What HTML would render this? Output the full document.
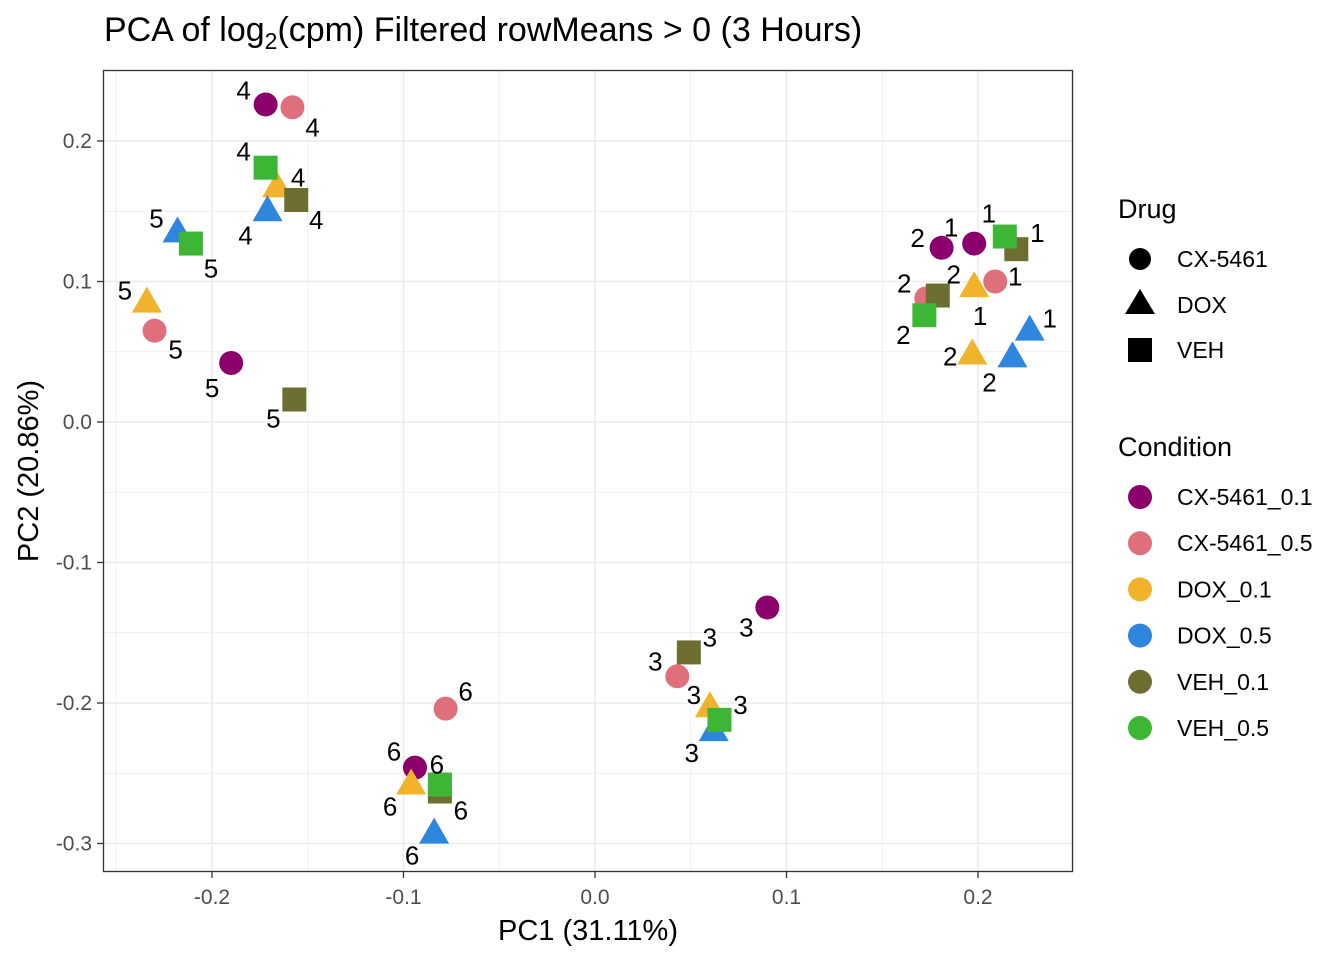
<!DOCTYPE html>
<html><head><meta charset="utf-8"><style>
body{margin:0;background:#fff;font-family:"Liberation Sans",Arial,sans-serif}
svg text{font-family:"Liberation Sans",Arial,sans-serif}
</style></head><body>
<svg id="chart" width="1344" height="960" viewBox="0 0 1344 960" xmlns="http://www.w3.org/2000/svg">
<rect width="1344" height="960" fill="#fff"/>
<text x="104" y="41" font-size="34" fill="#000">PCA of log<tspan font-size="23" dy="8">2</tspan><tspan dy="-8">(cpm) Filtered rowMeans &gt; 0 (3 Hours)</tspan></text>
<g id="grid"></g>
<g id="marks"></g>
<g id="labels"></g>
<rect x="103.5" y="70.5" width="969" height="801" fill="none" stroke="#333" stroke-width="1.3"/>
<g id="axes"></g>
<text x="588" y="940" font-size="29" text-anchor="middle">PC1 (31.11%)</text>
<text transform="translate(38,471) rotate(-90)" font-size="29" text-anchor="middle">PC2 (20.86%)</text>
<g id="legend">
<text x="1118" y="218" font-size="27">Drug</text>
<circle cx="1140" cy="259" r="11" fill="#000"/>
<text x="1177" y="267" font-size="23">CX-5461</text>
<polygon points="1140,289 1155,314 1125,314" fill="#000"/>
<text x="1177" y="313" font-size="23">DOX</text>
<rect x="1128" y="338" width="24" height="24" fill="#000"/>
<text x="1177" y="358" font-size="23">VEH</text>
<text x="1118" y="456" font-size="27">Condition</text>
</g>
</svg>
<script>
const conditions = ["CX-5461_0.1","CX-5461_0.5","DOX_0.1","DOX_0.5","VEH_0.1","VEH_0.5"];
const drugs = ["CX-5461","CX-5461","DOX","DOX","VEH","VEH"];
const colors = ["#8B006B","#E06F7C","#F0B32B","#2E86DE","#6E6E32","#3DB535"];
const reps = [1,2,3,4,5,6];
const pc1 = [
 [0.198,0.181,0.090,-0.172,-0.190,-0.094],
 [0.209,0.173,0.043,-0.158,-0.230,-0.078],
 [0.198,0.197,0.060,-0.166,-0.234,-0.096],
 [0.227,0.218,0.062,-0.171,-0.218,-0.084],
 [0.220,0.179,0.049,-0.156,-0.157,-0.081],
 [0.214,0.172,0.065,-0.172,-0.211,-0.081]];
const pc2 = [
 [0.127,0.124,-0.132,0.226,0.042,-0.246],
 [0.100,0.088,-0.181,0.224,0.065,-0.204],
 [0.096,0.048,-0.203,0.167,0.085,-0.258],
 [0.065,0.046,-0.220,0.150,0.135,-0.293],
 [0.123,0.090,-0.164,0.158,0.016,-0.263],
 [0.132,0.076,-0.212,0.181,0.127,-0.258]];
const xTicks = [-0.2,-0.1,0.0,0.1,0.2];
const xTickLabels = ["-0.2","-0.1","0.0","0.1","0.2"];
const yTicks = [0.2,0.1,0.0,-0.1,-0.2,-0.3];
const yTickLabels = ["0.2","0.1","0.0","-0.1","-0.2","-0.3"];
const xMinor = [-0.25,-0.15,-0.05,0.05,0.15,0.25];
const yMinor = [0.25,0.15,0.05,-0.05,-0.15,-0.25];
// label pixel offsets (repel placement), styling only
const lblOff = [
 [[-23,-16],[-24,-10],[-21,20],[-22,-14],[-19,25],[-21,-16]],
 [[20,-5],[-22,-15],[-22,-15],[20,20],[21,19],[20,-17]],
 [[6,29],[-22,2],[-16,-12],[21,-10],[-22,-12],[-21,22]],
 [[20,-12],[-23,25],[-22,22],[-22,24],[-21,-14],[-22,22]],
 [[21,-16],[16,-21],[21,-15],[20,20],[-21,19],[21,19]],
 [[-16,-23],[-21,20],[21,-15],[-22,-16],[20,25],[-3,-20]]];
const X = v => 595 + v*1915;
const Y = v => 422 - v*1405;
const NS="http://www.w3.org/2000/svg";
function mk(tag, attrs, parent){const e=document.createElementNS(NS,tag);for(const k in attrs)e.setAttribute(k,attrs[k]);parent.appendChild(e);return e;}
const grid=document.getElementById('grid');
xMinor.forEach(v=>{const l=mk('line',{x1:X(v),x2:X(v),y1:71,y2:871,stroke:'#EBEBEB','stroke-width':0.8},grid);

});
yMinor.forEach(v=>{const l=mk('line',{x1:104,x2:1072,y1:Y(v),y2:Y(v),stroke:'#EBEBEB','stroke-width':0.8},grid);

});
xTicks.forEach(v=>{const l=mk('line',{x1:X(v),x2:X(v),y1:71,y2:871,stroke:'#EBEBEB','stroke-width':1.6},grid);

});
yTicks.forEach(v=>{const l=mk('line',{x1:104,x2:1072,y1:Y(v),y2:Y(v),stroke:'#EBEBEB','stroke-width':1.6},grid);

});
const axes=document.getElementById('axes');
xTicks.forEach((v,i)=>{const t=mk('line',{x1:X(v),x2:X(v),y1:872,y2:878,stroke:'#333','stroke-width':1.3},axes);


const s=mk('text',{x:X(v),y:904,'font-size':21,'text-anchor':'middle',fill:'#4D4D4D'},axes);s.textContent=xTickLabels[i];

});
yTicks.forEach((v,i)=>{const t=mk('line',{x1:97,x2:103,y1:Y(v),y2:Y(v),stroke:'#333','stroke-width':1.3},axes);


const s=mk('text',{x:92,y:Y(v)+7,'font-size':21,'text-anchor':'end',fill:'#4D4D4D'},axes);s.textContent=yTickLabels[i];

});
const marks=document.getElementById('marks'), labels=document.getElementById('labels');
function shape(drug,cx,cy,col,parent){
 if(drug==="CX-5461") return mk('circle',{cx:cx,cy:cy,r:12,fill:col},parent);
 if(drug==="DOX") return mk('polygon',{points:`${cx},${cy-16} ${cx+15},${cy+10} ${cx-15},${cy+10}`,fill:col},parent);
 return mk('rect',{x:cx-12,y:cy-12,width:24,height:24,fill:col},parent);
}
for(let r=0;r<reps.length;r++){
 for(let c=0;c<conditions.length;c++){
  const e=shape(drugs[c],X(pc1[c][r]),Y(pc2[c][r]),colors[c],marks);
  
  
 }
}
for(let c=0;c<conditions.length;c++){
 for(let r=0;r<reps.length;r++){
  const t=mk('text',{x:X(pc1[c][r])+lblOff[c][r][0],y:Y(pc2[c][r])+lblOff[c][r][1]+9,'font-size':26,'text-anchor':'middle',fill:'#000'},labels);
  t.textContent=reps[r];
  
  
 }
}
const leg=document.getElementById('legend');
conditions.forEach((c,i)=>{const y=497+i*46.2;
 const k=mk('circle',{cx:1140,cy:y,r:12,fill:colors[i]},leg);
 
 
 const t=mk('text',{x:1177,y:y+8,'font-size':23},leg);t.textContent=c;
 
 
});
</script>
</body></html>
